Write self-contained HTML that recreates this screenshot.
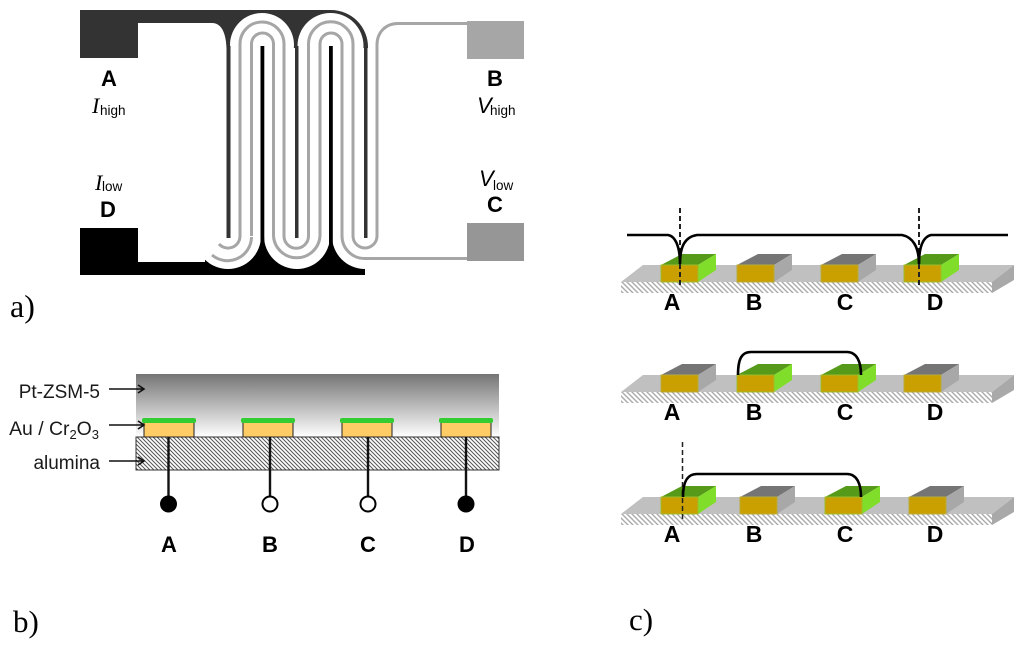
<!DOCTYPE html>
<html><head><meta charset="utf-8"><style>html,body{margin:0;padding:0;background:#fff}svg{display:block}
.b{font-family:"Liberation Sans",sans-serif;font-weight:bold;font-size:22px;text-anchor:middle}
.bc{font-family:"Liberation Sans",sans-serif;font-weight:bold;font-size:23px;text-anchor:middle}
.t{font-family:"Liberation Serif",serif;font-size:31px}.l{font-family:"Liberation Sans",sans-serif;font-size:19px;fill:#1a1a1a;text-anchor:end}
.i{font-family:"Liberation Serif",serif;font-style:italic;font-size:22px}.v{font-family:"Liberation Sans",sans-serif;font-style:italic;font-size:22px}.u{font-family:"Liberation Sans",sans-serif;font-size:13.5px}
.g{fill:none;stroke:#a6a6a6;stroke-width:3}
.c{fill:none;stroke:#000;stroke-width:2.6}.ds{stroke:#222;stroke-width:2;stroke-dasharray:5 3;fill:none}</style></head><body>
<svg width="1024" height="645" viewBox="0 0 1024 645" xmlns="http://www.w3.org/2000/svg">
<defs>
<linearGradient id="fg" x1="0" y1="0" x2="0" y2="1"><stop offset="0" stop-color="#757575"/><stop offset="1" stop-color="#fff"/></linearGradient>
<pattern id="h" width="4" height="4" patternUnits="userSpaceOnUse"><rect width="4" height="4" fill="#fff"/><path d="M-1 -1L5 5M-1 3L1 5M3 -1L5 1" stroke="#555" stroke-width="1"/></pattern>
<pattern id="h2" width="5" height="5" patternUnits="userSpaceOnUse"><rect width="5" height="5" fill="#fff"/><path d="M-1 -1L6 6M-1 4L1 6M4 -1L6 1" stroke="#aaa" stroke-width="1.4"/></pattern>
<g id="pl"><path d="M621 282L643 265H1014L992 282Z" fill="#c0c0c0"/><path d="M992 282L1014 265V280L992 293Z" fill="#a9a9a9"/><rect x="621" y="282" width="371" height="11" fill="url(#h2)"/></g>
<g id="gr"><path d="M0 0L21 -11H55L37 0Z" fill="#757575"/><path d="M37 0L55 -11V5L37 17Z" fill="#a8a8a8"/><rect x="0" y="0" width="37" height="17" fill="#c9a000" stroke="#b9aa3a" stroke-width="1"/></g>
<g id="gn"><path d="M0 0L21 -11H55L37 0Z" fill="#559a18"/><path d="M37 0L55 -11V5L37 17Z" fill="#80dd2a"/><rect x="0" y="0" width="37" height="17" fill="#c9a000" stroke="#9fbb2a" stroke-width="1"/></g>
</defs>

<!-- panel a -->
<path d="M80 10H331A37 37 0 0 1 368 47V48H226.500C226 34 222 23 212 23H138V58H80Z" fill="#333"/>
<circle cx="262" cy="45" r="32" fill="#fff"/><circle cx="330.500" cy="46" r="33" fill="#fff"/>
<rect x="226.500" y="46" width="4" height="192" fill="#333"/><rect x="295" y="46" width="3.500" height="192" fill="#333"/><rect x="364" y="46" width="3.500" height="192" fill="#333"/>
<rect x="80" y="228" width="58" height="47" fill="#000"/>
<rect x="138" y="262" width="70" height="13" fill="#000"/><rect x="205" y="236" width="160" height="39" fill="#000"/>
<circle cx="228" cy="236" r="33" fill="#fff"/><circle cx="297" cy="236" r="33" fill="#fff"/><circle cx="365" cy="236" r="33" fill="#fff"/>
<rect x="138" y="262" width="67" height="13" fill="#000"/><rect x="205" y="270" width="160" height="5" fill="#000"/>
<rect x="226.500" y="200" width="4" height="38" fill="#333"/><rect x="295" y="200" width="3.500" height="38" fill="#333"/><rect x="364" y="200" width="3.500" height="38" fill="#333"/>
<path class="g" d="M240 236V44A22 22 0 0 1 284 44V236"/><path class="g" d="M251.500 236V44A11 11 0 0 1 273.500 44V236"/>
<path class="g" d="M308.500 236V44A22 22 0 0 1 353 44V236"/><path class="g" d="M320 236V44A11 11 0 0 1 342 44V236"/>
<rect x="260.500" y="46" width="3.800" height="200" fill="#000"/><rect x="329" y="46" width="3.800" height="200" fill="#000"/>
<path class="g" d="M240 236A12 12 0 0 1 219 244"/>
<path class="g" d="M251.500 237A24 24 0 0 1 212 255"/>
<path class="g" d="M273.500 236A23.300 23.300 0 0 0 320 236"/><path class="g" d="M284 236A12.250 12.250 0 0 0 308.500 236"/>
<path class="g" d="M353 236A12 12 0 0 0 377 236V45C377 32 386 23.500 398 23.500H467"/>
<path class="g" d="M342 236A22.500 22.500 0 0 0 364.500 258.500H467"/>
<rect x="467" y="21" width="57" height="38" fill="#a6a6a6"/><rect x="467" y="223" width="57" height="38" fill="#969696"/>
<text class="b" x="109" y="86">A</text><text class="b" x="495" y="86">B</text><text class="b" x="108" y="217">D</text><text class="b" x="495" y="212">C</text>
<text x="92" y="113"><tspan class="i">I</tspan></text><text class="u" x="100" y="115">high</text>
<text x="477" y="113"><tspan class="v">V</tspan></text><text class="u" x="490" y="115">high</text>
<text x="95" y="190"><tspan class="i">I</tspan></text><text class="u" x="102" y="191">low</text>
<text x="479" y="186"><tspan class="v">V</tspan></text><text class="u" x="493" y="190">low</text>
<text class="t" x="10" y="317" style="font-size:32px">a)</text>

<!-- panel b -->
<rect x="136" y="374" width="363" height="63" fill="url(#fg)"/>
<rect x="136" y="437" width="363" height="33" fill="url(#h)" stroke="#333" stroke-width="1"/>
<g fill="#ffcc66" stroke="#222" stroke-width="1"><rect x="144" y="422" width="50" height="15"/><rect x="243" y="422" width="50" height="15"/><rect x="342" y="422" width="50" height="15"/><rect x="441" y="422" width="50" height="15"/></g>
<g fill="#33cc33"><rect x="142" y="418" width="54" height="5" rx="2"/><rect x="241" y="418" width="54" height="5" rx="2"/><rect x="340" y="418" width="54" height="5" rx="2"/><rect x="439" y="418" width="54" height="5" rx="2"/></g>
<g stroke="#111" stroke-width="2.400"><path d="M168.500 437V497M270 437V497M368 437V497M466 437V497"/></g>
<circle cx="168.500" cy="504" r="8.500" fill="#000"/><circle cx="270" cy="504" r="7.500" fill="#fff" stroke="#000" stroke-width="2"/><circle cx="368" cy="504" r="7.500" fill="#fff" stroke="#000" stroke-width="2"/><circle cx="466" cy="504" r="8.500" fill="#000"/>
<text class="b" x="169" y="552">A</text><text class="b" x="270" y="552">B</text><text class="b" x="368" y="552">C</text><text class="b" x="467" y="552">D</text>
<text class="l" x="100" y="398">Pt-ZSM-5</text>
<text class="l" x="99" y="435" style="font-size:19.4px">Au / Cr<tspan font-size="13" dy="4">2</tspan><tspan dy="-4">O</tspan><tspan font-size="13" dy="4">3</tspan></text>
<text class="l" x="100" y="469">alumina</text>
<g stroke="#111" stroke-width="1.600" fill="none"><path d="M109 389H143M138 385L144 389L138 393"/><path d="M109 425H143M138 421L144 425L138 429"/><path d="M109 461H143M138 457L144 461L138 465"/></g>
<text class="t" x="13" y="632">b)</text>

<!-- panel c -->
<use href="#pl"/><use href="#pl" y="110"/><use href="#pl" y="232"/>
<use href="#gn" x="661" y="265"/><use href="#gr" x="737" y="265"/><use href="#gr" x="821" y="265"/><use href="#gn" x="904" y="265"/>
<use href="#gr" x="661" y="375"/><use href="#gn" x="737" y="375"/><use href="#gn" x="821" y="375"/><use href="#gr" x="904" y="375"/>
<use href="#gn" x="661" y="497"/><use href="#gr" x="740" y="497"/><use href="#gn" x="825" y="497"/><use href="#gr" x="909" y="497"/>
<path class="ds" d="M680 208V286M919 208V286"/><path class="ds" style="stroke-width:1.500" d="M682.500 442V522"/>
<path class="c" d="M627 235H668C675 236 680 246 680 264C680 246 685 237 697 235H902C912 237 919 246 919 264C919 246 923 237 931 235H1008"/>
<path class="c" d="M738 375C738 360 741 352 751 352H847C857 352 861 362 861 375"/>
<path class="c" d="M683 497C683 482 687 474 697 474H847C857 474 861 484 861 497"/>
<text class="bc" x="672" y="310">A</text><text class="bc" x="754" y="310">B</text><text class="bc" x="845" y="310">C</text><text class="bc" x="935" y="310">D</text>
<text class="bc" x="672" y="420">A</text><text class="bc" x="754" y="420">B</text><text class="bc" x="845" y="420">C</text><text class="bc" x="935" y="420">D</text>
<text class="bc" x="672" y="542">A</text><text class="bc" x="754" y="542">B</text><text class="bc" x="845" y="542">C</text><text class="bc" x="935" y="542">D</text>
<text class="t" x="629" y="630">c)</text>
</svg></body></html>
